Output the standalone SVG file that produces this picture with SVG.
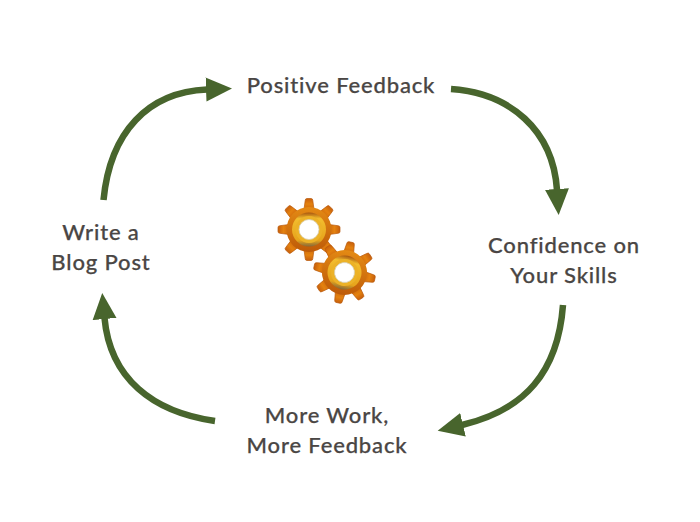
<svg xmlns="http://www.w3.org/2000/svg" xmlns:xlink="http://www.w3.org/1999/xlink" width="700" height="522" viewBox="0 0 700 522">
<style>
.lbl{font-family:"Lato","Open Sans",sans-serif;font-size:22px;font-weight:500;fill:#4a4644;stroke:#4a4644;stroke-width:.25;text-anchor:middle;letter-spacing:.85px}
.arc{fill:none;stroke:#48652d;stroke-width:6.500;marker-end:url(#head)}
</style>
<defs>
<marker id="head" markerUnits="userSpaceOnUse" markerWidth="28" markerHeight="26" refX="1" refY="13" orient="auto" viewBox="0 0 28 26"><path d="M0 1L26 13L0 25Z" fill="#48652d"/></marker>
<linearGradient id="bodyG" x1="0" y1="0" x2="0" y2="1"><stop offset="0" stop-color="#e48a14"/><stop offset="1" stop-color="#bd5a08"/></linearGradient>
<linearGradient id="ringG" x1="0" y1="0" x2="0" y2="1"><stop offset="0" stop-color="#a8560f"/><stop offset=".18" stop-color="#f2bd2e"/><stop offset=".82" stop-color="#e6a41c"/><stop offset="1" stop-color="#85683a"/></linearGradient>
<linearGradient id="toothG" x1="0" y1="0" x2="0" y2="1"><stop offset="0" stop-color="#c75f0c"/><stop offset=".5" stop-color="#e4820f"/><stop offset="1" stop-color="#cf6a0c"/></linearGradient>
<path id="tooth" d="M-5-20L-3.800-29Q-3.800-31-2-31H2Q3.800-31 3.800-29L5-20Z" fill="url(#toothG)" stroke="#b9590b" stroke-width=".7"/>
<g id="gear">
<use xlink:href="#tooth"/><use xlink:href="#tooth" transform="rotate(45)"/><use xlink:href="#tooth" transform="rotate(90)"/><use xlink:href="#tooth" transform="rotate(135)"/><use xlink:href="#tooth" transform="rotate(180)"/><use xlink:href="#tooth" transform="rotate(225)"/><use xlink:href="#tooth" transform="rotate(270)"/><use xlink:href="#tooth" transform="rotate(315)"/>
<circle r="22.500" fill="url(#bodyG)"/>
<circle r="17" fill="url(#ringG)"/>
<circle r="13.500" fill="#ecb228"/>
<circle r="10" fill="#fff" stroke="#d8cfb2" stroke-width=".8"/>
</g>
</defs>
<rect width="700" height="522" fill="#fff"/>
<g id="connectors">
<path class="arc" d="M103.500 200C110 132 148 92 207 89.500"/>
<path class="arc" d="M451 89C510 93 553 130 557 190"/>
<path class="arc" d="M563 305C558 372 525 410 462 425"/>
<path class="arc" d="M215 421C152 412 110 378 104.500 318"/>
</g>
<g id="gears">
<use xlink:href="#gear" transform="translate(309 229.500)"/>
<use xlink:href="#gear" transform="translate(344.500 272.500) rotate(12)"/>
</g>
<g id="node-feedback"><text class="lbl" x="341" y="93">Positive Feedback</text></g>
<g id="node-confidence"><text class="lbl" x="564" y="253">Confidence on</text><text class="lbl" x="564" y="283">Your Skills</text></g>
<g id="node-work"><text class="lbl" x="327" y="423">More Work,</text><text class="lbl" x="327" y="453">More Feedback</text></g>
<g id="node-post"><text class="lbl" x="101" y="240">Write a</text><text class="lbl" x="101" y="270">Blog Post</text></g>
</svg>
